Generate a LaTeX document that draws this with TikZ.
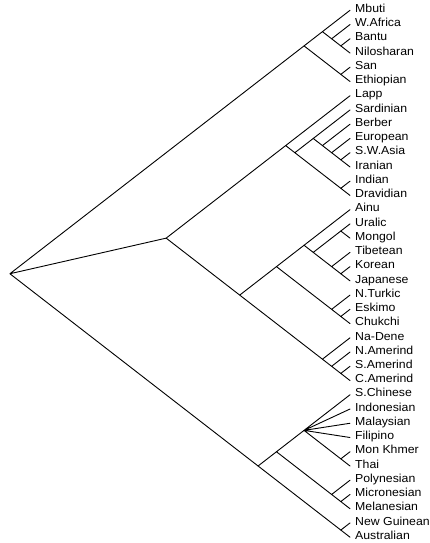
\documentclass[tikz,border=0pt]{standalone}
\usepackage{fontspec}
\setmainfont{Liberation Sans}[FakeStretch=1.06]
\usepackage{tikz}
\usetikzlibrary{positioning}

\begin{document}
\begin{tikzpicture}[
            x=1pt, y=-1pt,
            branch/.style={draw=black, line width=0.9pt, line cap=round},
            leaf/.style={anchor=west, inner xsep=5pt, inner ysep=0pt, text height=7.7pt, text depth=3.3pt, font=\fontsize{11.6}{13}\selectfont}
        ]
            \useasboundingbox (0,0) rectangle (429,543);

            % Leaves (Africa)
            \node[leaf] (mbuti) at (350, 10.30) {Mbuti};
            \node[leaf] (wafrica) at (350, 24.54) {W.Africa};
            \node[leaf] (bantu) at (350, 38.78) {Bantu};
            \node[leaf] (nilo) at (350, 53.02) {Nilosharan};
            \node[leaf] (san) at (350, 67.26) {San};
            \node[leaf] (ethiop) at (350, 81.50) {Ethiopian};

            % Leaves (West Eurasia)
            \node[leaf] (lapp) at (350, 95.74) {Lapp};
            \node[leaf] (sard) at (350, 109.98) {Sardinian};
            \node[leaf] (berber) at (350, 124.22) {Berber};
            \node[leaf] (europ) at (350, 138.46) {European};
            \node[leaf] (swasia) at (350, 152.70) {S.W.Asia};
            \node[leaf] (iran) at (350, 166.94) {Iranian};
            \node[leaf] (india) at (350, 181.18) {Indian};
            \node[leaf] (dravid) at (350, 195.42) {Dravidian};

            % Leaves (North-East Asia and America)
            \node[leaf] (ainu) at (350, 209.66) {Ainu};
            \node[leaf] (uralic) at (350, 223.90) {Uralic};
            \node[leaf] (mongol) at (350, 238.14) {Mongol};
            \node[leaf] (tibet) at (350, 252.38) {Tibetean};
            \node[leaf] (korea) at (350, 266.62) {Korean};
            \node[leaf] (japan) at (350, 280.86) {Japanese};
            \node[leaf] (nturk) at (350, 295.10) {N.Turkic};
            \node[leaf] (eskimo) at (350, 309.34) {Eskimo};
            \node[leaf] (chukchi) at (350, 323.58) {Chukchi};
            \node[leaf] (nadene) at (350, 337.82) {Na-Dene};
            \node[leaf] (namer) at (350, 352.06) {N.Amerind};
            \node[leaf] (samer) at (350, 366.30) {S.Amerind};
            \node[leaf] (camer) at (350, 380.54) {C.Amerind};

            % Leaves (South-East Asia and Pacific)
            \node[leaf] (schina) at (350, 394.78) {S.Chinese};
            \node[leaf] (indon) at (350, 409.02) {Indonesian};
            \node[leaf] (malay) at (350, 423.26) {Malaysian};
            \node[leaf] (filip) at (350, 437.50) {Filipino};
            \node[leaf] (monkh) at (350, 451.74) {Mon Khmer};
            \node[leaf] (thai) at (350, 465.98) {Thai};
            \node[leaf] (polyn) at (350, 480.22) {Polynesian};
            \node[leaf] (micron) at (350, 494.46) {Micronesian};
            \node[leaf] (melan) at (350, 508.70) {Melanesian};
            \node[leaf] (nguin) at (350, 522.94) {New Guinean};
            \node[leaf] (austr) at (350, 537.18) {Australian};

            % Inner nodes
            \coordinate (root) at (9.90, 273.74);

            \coordinate (africa) at (304.04, 45.90);
            \coordinate (af1) at (322.42, 31.66);
            \coordinate (af2) at (331.62, 38.78);
            \coordinate (af3) at (340.81, 45.90);
            \coordinate (af4) at (340.81, 74.38);

            \coordinate (north) at (166.16, 238.14);
            \coordinate (west) at (285.66, 145.58);
            \coordinate (w1) at (294.85, 152.70);
            \coordinate (w2) at (313.23, 138.46);
            \coordinate (w3) at (322.42, 145.58);
            \coordinate (w4) at (331.62, 152.70);
            \coordinate (w5) at (340.81, 159.82);
            \coordinate (w6) at (340.81, 188.30);

            \coordinate (east) at (239.70, 295.10);
            \coordinate (e1) at (276.46, 266.62);
            \coordinate (e2) at (304.04, 245.26);
            \coordinate (e3) at (313.23, 252.38);
            \coordinate (e4) at (340.81, 231.02);
            \coordinate (e5) at (331.62, 266.62);
            \coordinate (e6) at (340.81, 273.74);
            \coordinate (e7) at (331.62, 309.34);
            \coordinate (e8) at (340.81, 316.46);
            \coordinate (am1) at (322.42, 359.18);
            \coordinate (am2) at (331.62, 366.30);
            \coordinate (am3) at (340.81, 373.42);

            \coordinate (south) at (258.08, 465.98);
            \coordinate (s1) at (276.46, 451.74);
            \coordinate (s2) at (304.04, 430.38);
            \coordinate (s3) at (340.81, 458.86);
            \coordinate (s4) at (331.62, 494.46);
            \coordinate (s5) at (340.81, 501.58);
            \coordinate (s6) at (340.81, 530.06);

            % Root
            \draw[branch] (root) -- (africa) (root) -- (north) (root) -- (south);

            % Africa
            \draw[branch] (africa) -- (af1) (africa) -- (af4);
            \draw[branch] (af1) -- (mbuti.west) (af1) -- (af2);
            \draw[branch] (af2) -- (wafrica.west) (af2) -- (af3);
            \draw[branch] (af3) -- (bantu.west) (af3) -- (nilo.west);
            \draw[branch] (af4) -- (san.west) (af4) -- (ethiop.west);

            % West Eurasia
            \draw[branch] (north) -- (west) (north) -- (east);
            \draw[branch] (west) -- (lapp.west) (west) -- (w1);
            \draw[branch] (w1) -- (w2) (w1) -- (w6);
            \draw[branch] (w2) -- (sard.west) (w2) -- (w3);
            \draw[branch] (w3) -- (berber.west) (w3) -- (w4);
            \draw[branch] (w4) -- (europ.west) (w4) -- (w5);
            \draw[branch] (w5) -- (swasia.west) (w5) -- (iran.west);
            \draw[branch] (w6) -- (india.west) (w6) -- (dravid.west);

            % North-East Asia and America
            \draw[branch] (east) -- (e1) (east) -- (am1);
            \draw[branch] (e1) -- (e2) (e1) -- (e7);
            \draw[branch] (e2) -- (ainu.west) (e2) -- (e3);
            \draw[branch] (e3) -- (e4) (e3) -- (e5);
            \draw[branch] (e4) -- (uralic.west) (e4) -- (mongol.west);
            \draw[branch] (e5) -- (tibet.west) (e5) -- (e6);
            \draw[branch] (e6) -- (korea.west) (e6) -- (japan.west);
            \draw[branch] (e7) -- (nturk.west) (e7) -- (e8);
            \draw[branch] (e8) -- (eskimo.west) (e8) -- (chukchi.west);
            \draw[branch] (am1) -- (nadene.west) (am1) -- (am2);
            \draw[branch] (am2) -- (namer.west) (am2) -- (am3);
            \draw[branch] (am3) -- (samer.west) (am3) -- (camer.west);

            % South-East Asia and Pacific
            \draw[branch] (south) -- (s1) (south) -- (s6);
            \draw[branch] (s1) -- (s2) (s1) -- (s4);
            \draw[branch] (s2) -- (schina.west) (s2) -- (indon.west) (s2) -- (malay.west) (s2) -- (filip.west) (s2) -- (s3);
            \draw[branch] (s3) -- (monkh.west) (s3) -- (thai.west);
            \draw[branch] (s4) -- (polyn.west) (s4) -- (s5);
            \draw[branch] (s5) -- (micron.west) (s5) -- (melan.west);
            \draw[branch] (s6) -- (nguin.west) (s6) -- (austr.west);

        \end{tikzpicture}
\end{document}
